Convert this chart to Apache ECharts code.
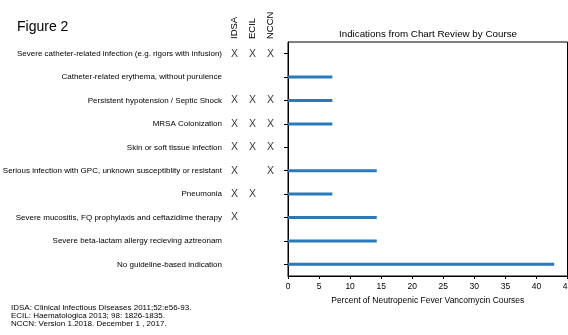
<!DOCTYPE html>
<html><head><meta charset="utf-8">
<script src="https://cdn.jsdelivr.net/npm/echarts@6/dist/echarts.min.js"></script>
<style>html,body{margin:0;padding:0;background:#fff}#c{width:568px;height:335px}</style>
</head><body><div id="c"></div>
<script>
const categories = [
  'Severe catheter-related infection (e.g. rigors with infusion)',
  'Catheter-related erythema, without purulence',
  'Persistent hypotension / Septic Shock',
  'MRSA Colonization',
  'Skin or soft tissue infection',
  'Serious infection with GPC, unknown susceptiblity or resistant',
  'Pneumonia',
  'Severe mucositis, FQ prophylaxis and ceftazidime therapy',
  'Severe beta-lactam allergy recieving aztreonam',
  'No guideline-based indication'
];
const percentValues = [0, 7.14, 7.14, 7.14, 0, 14.29, 7.14, 14.29, 14.29, 42.86];
const guidelines = ['IDSA', 'ECIL', 'NCCN'];
const idsa = [1,0,1,1,1,1,1,1,0,0];
const ecil = [1,0,1,1,1,0,1,0,0,0];
const nccn = [1,0,1,1,1,1,0,0,0,0];
const xTicks = [0,5,10,15,20,25,30,35,40,45];
const references = [
  'IDSA: Clinical Infectious Diseases 2011;52:e56-93.',
  'ECIL: Haematologica 2013; 98: 1826-1835.',
  'NCCN: Version 1.2018. December 1 , 2017.'
];

const marks = [];
[idsa, ecil, nccn].forEach((col, ci) => col.forEach((v, ri) => { if (v) marks.push([guidelines[ci], categories[ri]]); }));

const FONT = 'Liberation Sans, Arial, sans-serif';
const chart = echarts.init(document.getElementById('c'), null, {renderer: 'canvas'});
chart.setOption({
  animation: false,
  textStyle: {fontFamily: FONT},
  title: [
    {text: 'Figure 2', left: 17, top: 20, padding: 0, textStyle: {fontFamily: FONT, fontSize: 14, fontWeight: 'normal', color: '#000'}},
    {text: 'Indications from Chart Review by Course', left: 428, textAlign: 'center', top: 29, padding: 0, textStyle: {fontFamily: FONT, fontSize: 9.8, fontWeight: 'normal', color: '#000'}}
  ],
  grid: [
    {left: 288, right: 0.5, top: 42, bottom: 59, show: true, borderColor: '#000', borderWidth: 1, outerBoundsMode: 'none', containLabel: false},
    {left: 225.5, width: 54, top: 42, bottom: 59, outerBoundsMode: 'none', containLabel: false}
  ],
  xAxis: [
    {type: 'value', gridIndex: 0, min: xTicks[0], max: xTicks[xTicks.length-1], interval: 5,
     name: 'Percent of Neutropenic Fever Vancomycin Courses', nameLocation: 'middle', nameGap: 16.5,
     nameTextStyle: {fontFamily: FONT, fontSize: 8.5, color: '#000'},
     axisLine: {show: true, lineStyle: {color: '#000', width: 1}},
     axisTick: {show: true, length: 3, lineStyle: {color: '#000'}},
     axisLabel: {fontFamily: FONT, fontSize: 8.5, color: '#000', margin: 6, showMaxLabel: true},
     splitLine: {show: false}},
    {type: 'category', gridIndex: 1, data: guidelines, position: 'top',
     axisLine: {show: false}, axisTick: {show: false},
     axisLabel: {rotate: -90, fontFamily: FONT, fontSize: 9.5, color: '#000', margin: 3}}
  ],
  yAxis: [
    {type: 'category', gridIndex: 0, data: categories, inverse: true,
     axisLine: {show: true, lineStyle: {color: '#000', width: 1}},
     axisTick: {show: true, alignWithLabel: true, length: 4, lineStyle: {color: '#000'}},
     axisLabel: {show: false}},
    {type: 'category', gridIndex: 1, data: categories, inverse: true,
     axisLine: {show: false}, axisTick: {show: false},
     axisLabel: {fontFamily: FONT, fontSize: 8, color: '#000', margin: 3.5}}
  ],
  series: [
    {type: 'bar', xAxisIndex: 0, yAxisIndex: 0, data: percentValues, barWidth: 3,
     itemStyle: {color: '#2a7ab9'}},
    {type: 'scatter', xAxisIndex: 1, yAxisIndex: 1, data: marks, symbolSize: 1,
     itemStyle: {color: 'rgba(0,0,0,0)'},
     label: {show: true, position: 'inside', formatter: 'X', fontFamily: FONT, fontSize: 10.5, color: '#000'}}
  ],
  graphic: references.map((t, i) => ({
    type: 'text', left: 11, top: 303.5 + i * 8.2,
    style: {text: t, font: '8px ' + FONT, fill: '#000'}
  }))
});
</script></body></html>
